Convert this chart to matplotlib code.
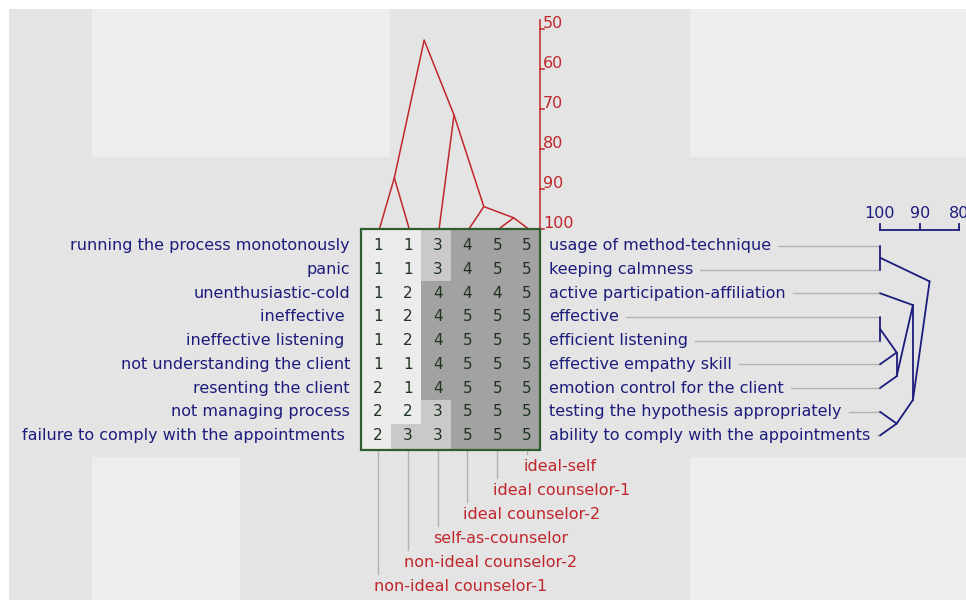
import numpy as np
import matplotlib
matplotlib.use("Agg")
import matplotlib.pyplot as plt
from matplotlib.patches import Rectangle

# ---------------- data ----------------
left_constructs = [
    "running the process monotonously",
    "panic",
    "unenthusiastic-cold",
    "ineffective ",
    "ineffective listening ",
    "not understanding the client",
    "resenting the client",
    "not managing process",
    "failure to comply with the appointments ",
]
right_constructs = [
    "usage of method-technique",
    "keeping calmness",
    "active participation-affiliation",
    "effective",
    "efficient listening",
    "effective empathy skill",
    "emotion control for the client",
    "testing the hypothesis appropriately",
    "ability to comply with the appointments",
]
elements = [
    "non-ideal counselor-1",
    "non-ideal counselor-2",
    "self-as-counselor",
    "ideal counselor-2",
    "ideal counselor-1",
    "ideal-self",
]
ratings = np.array([
    [1, 1, 3, 4, 5, 5],
    [1, 1, 3, 4, 5, 5],
    [1, 2, 4, 4, 4, 5],
    [1, 2, 4, 5, 5, 5],
    [1, 2, 4, 5, 5, 5],
    [1, 1, 4, 5, 5, 5],
    [2, 1, 4, 5, 5, 5],
    [2, 2, 3, 5, 5, 5],
    [2, 3, 3, 5, 5, 5],
])
# linkage-style merges: (left node, right node, similarity level); new node ids continue after leaves
element_merges = [(4, 5, 97.2), (0, 1, 87.2), (3, 6, 94.4), (2, 8, 71.5), (7, 9, 52.8)]
construct_merges = [(0, 1, 100.0), (3, 4, 100.0), (10, 5, 95.8), (11, 6, 95.8),
                    (7, 8, 95.8), (2, 12, 91.7), (14, 13, 91.7), (9, 15, 87.5)]
element_scale_ticks = [50, 60, 70, 80, 90, 100]
construct_scale_ticks = [100, 90, 80]

# ---------------- styles / layout ----------------
W, H = 966, 600
RED = "#c0262c"
NAVY = "#1c1c7c"
GREEN = "#2f5f2f"
DIGIT = "#1f331f"
LEADER = "#b3b3b3"
FS = 11.5
FSD = 11

fig = plt.figure(figsize=(W / 100, H / 100), dpi=100)
fig.patch.set_facecolor("white")
ax = fig.add_axes([0, 0, 1, 1])
ax.set_xlim(0, W)
ax.set_ylim(H, 0)
ax.axis("off")

# background panels
ax.add_patch(Rectangle((9, 9), W - 9, H - 9, color="#e4e4e4", lw=0, zorder=0))
for (x, y, w, h) in [(92, 9, 298, 148), (690, 9, 276, 148), (92, 457, 148, 143), (690, 457, 276, 143)]:
    ax.add_patch(Rectangle((x, y), w, h, color="#ededed", lw=0, zorder=0))

nrow, ncol = ratings.shape
gx0, gx1 = 361, 540
gy0, gy1 = 229, 450
cw = (gx1 - gx0) / ncol
ry0, rh = 234, 23.7

def col_x(i):
    return gx0 + cw * (i + 0.5) + 2

def row_y(j):
    return ry0 + rh * (j + 0.5)

shade = {1: "#ececec", 2: "#ececec", 3: "#c9c9c9", 4: "#a2a2a2", 5: "#a2a2a2"}
for j in range(nrow):
    for i in range(ncol):
        y_top = gy0 if j == 0 else ry0 + rh * j
        y_bot = gy1 if j == nrow - 1 else ry0 + rh * (j + 1)
        ax.add_patch(Rectangle((gx0 + cw * i, y_top), cw, y_bot - y_top,
                               color=shade[ratings[j, i]], lw=0, zorder=1))
        ax.text(col_x(i), row_y(j), str(ratings[j, i]), ha="center", va="center",
                fontsize=FSD, color=DIGIT, zorder=3)
ax.add_patch(Rectangle((gx0, gy0), gx1 - gx0, gy1 - gy0, fill=False,
                       edgecolor=GREEN, lw=1.6, zorder=4))

# ---------------- construct labels ----------------
for j, s in enumerate(left_constructs):
    ax.text(350, row_y(j), s, ha="right", va="center", fontsize=FS, color=NAVY)
right_texts = []
for j, s in enumerate(right_constructs):
    right_texts.append(ax.text(549, row_y(j), s, ha="left", va="center", fontsize=FS, color=NAVY))

# ---------------- element labels ----------------
for i, s in enumerate(elements):
    ly = 466.7 + (ncol - 1 - i) * 24
    ax.text(col_x(i) - 4, ly, s, ha="left", va="center", fontsize=FS, color=RED)
    ax.plot([col_x(i), col_x(i)], [gy1, ly - 13], color=LEADER, lw=1.0, zorder=2)

# ---------------- dendrogram helper ----------------
def tree(n, merges):
    leaves = {k: [k] for k in range(n)}
    pos, lev = {k: float(k) for k in range(n)}, {k: 100.0 for k in range(n)}
    segs = []
    for m, (a, b, L) in enumerate(merges):
        nid = n + m
        leaves[nid] = leaves[a] + leaves[b]
        pos[nid] = (max(leaves[a]) + min(leaves[b])) / 2
        lev[nid] = L
        for c in (a, b):
            segs.append(((pos[c], lev[c]), (pos[nid], L)))
    return segs

# element dendrogram (top, red)
def ey(v):
    return gy0 - (100 - v) * 4.0

lx0 = col_x(0) + 1.5
for (p0, l0), (p1, l1) in tree(ncol, element_merges):
    ax.plot([lx0 + p0 * cw, lx0 + p1 * cw], [ey(l0), ey(l1)],
            color=RED, lw=1.1, solid_capstyle="round", zorder=2)
ax.plot([gx1, gx1], [ey(min(element_scale_ticks)) - 9, ey(100)], color=RED, lw=1.1)
for v in element_scale_ticks:
    ax.plot([gx1, gx1 + 4], [ey(v), ey(v)], color=RED, lw=1.1)
    ax.text(gx1 + 3, ey(v) - 5, str(v), ha="left", va="center", fontsize=FS, color=RED)

# construct dendrogram (right, navy)
def cx(v):
    return 880 + (100 - v) * 3.97

for (p0, l0), (p1, l1) in tree(nrow, construct_merges):
    ax.plot([cx(l0), cx(l1)], [row_y(p0), row_y(p1)], color=NAVY, lw=1.3,
            solid_capstyle="round", zorder=2)
sy = 229.5
ax.plot([cx(max(construct_scale_ticks)), cx(min(construct_scale_ticks))], [sy, sy], color=NAVY, lw=1.3)
for v in construct_scale_ticks:
    ax.plot([cx(v), cx(v)], [sy, sy - 6], color=NAVY, lw=1.3)
    ax.text(cx(v), 213, str(v), ha="center", va="center", fontsize=FS, color=NAVY)

# leader lines from right labels to the dendrogram
fig.canvas.draw()
r = fig.canvas.get_renderer()
for j, t in enumerate(right_texts):
    bb = t.get_window_extent(r)
    ax.plot([bb.x1 + 7, cx(100)], [row_y(j), row_y(j)], color=LEADER, lw=1.0, zorder=1)

fig.savefig("out.png", dpi=100, facecolor="white")
